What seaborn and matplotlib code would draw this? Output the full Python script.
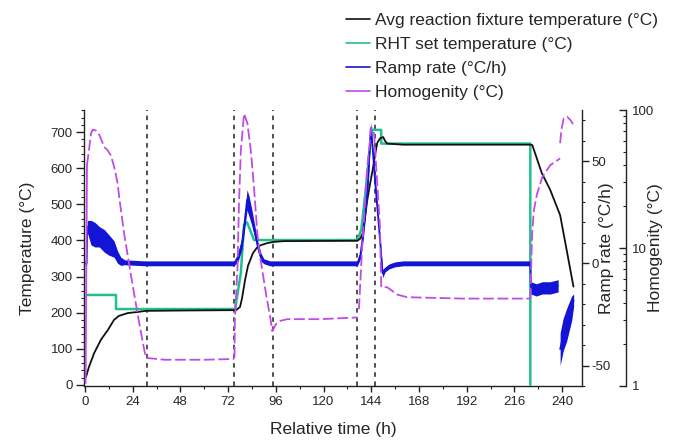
import matplotlib
matplotlib.use("Agg")
import matplotlib.pyplot as plt
import numpy as np
import seaborn as sns
from matplotlib.lines import Line2D
from matplotlib.ticker import MultipleLocator, LogLocator, NullFormatter, FixedLocator, FixedFormatter

sns.set_theme(style="white")
plt.rcParams["font.family"] = ["Liberation Sans", "DejaVu Sans"]
plt.rcParams["axes.unicode_minus"] = False

# ---- Average reaction fixture temperature (degC) ----
fixture_time = [0.5, 2, 4.6, 8, 11.5, 14.6, 17, 21.6, 26.6, 30.6, 50, 75, 76, 78, 79,
                80.5, 82, 84.5, 86.5, 88.5, 92, 95, 100, 137, 138.5, 139.7, 141, 142,
                143.5, 144.7, 146, 147, 148.5, 150, 151, 152, 160, 200, 224, 225,
                229.8, 234, 239, 242.3, 245.7]
fixture_temp = [22, 50, 88, 125, 152, 180, 191, 199, 202, 205, 206, 207, 207, 216, 240,
                290, 330, 365, 380, 387, 393, 396, 398, 399, 405, 420, 470, 512,
                560, 595, 640, 670, 683, 686, 675, 668, 665, 665, 665, 664,
                586, 540, 470, 373, 272]

# ---- RHT set temperature (degC) ----
set_time = [1.3, 15.6, 15.6, 75.5, 78.4, 80, 81.5, 84.4, 85, 137, 139, 141, 143,
            144.5, 149, 149, 224, 224]
set_temp = [249, 249, 210, 210, 310, 443, 450, 410, 401, 401, 430, 530, 640,
            706, 706, 668, 668, 0]

# ---- Ramp rate (degC/h): centre of the trace and half-width of its noise band ----
ramp_time_a = [0, 0.8, 1.2, 3, 5, 7.2, 9.7, 12, 14.6, 16.4, 18, 20, 30, 50, 75, 77,
               79, 80.5, 81.5, 82.5, 84, 85.5, 87, 88.5, 90, 93, 100, 137, 138.5,
               140, 141.5, 142.5, 143.7, 144.7, 145.5, 146.5, 147.5, 148.5, 149.7,
               151, 153, 156, 160, 224, 224.3, 227, 230, 234, 238]
ramp_rate_a = [0, 0, 18, 15, 14, 13, 11, 9, 7, 3, 1, 0.5, 0, 0, 0, 3,
               10, 22, 31, 28, 22, 15, 8, 3, 1, 0, 0, 0, 4,
               15, 30, 42, 66, 56, 45, 33, 22, 10, -5,
               -3, -1.5, -0.5, 0, 0, -12, -13, -12, -12, -11]
ramp_noise_a = [1, 1, 3, 6, 6, 5, 5.5, 5, 4, 3, 2, 1.2, 1.2, 1.2, 1.2, 2,
                3, 4, 5, 5, 4, 3, 2.5, 2, 1.2, 1.2, 1.2, 1.2, 2,
                3, 3, 3, 3, 3, 3, 3, 3, 3, 2,
                1.2, 1.2, 1.2, 1.2, 1.2, 3, 3, 3, 3, 3]
ramp_time_b = [239, 240.5, 242.3, 244.8, 245.8]
ramp_rate_b = [-42, -35, -30, -22, -18]
ramp_noise_b = [8, 8, 8, 6, 3]

# ---- Homogenity (degC), log axis ----
homog_time_0 = [0.3, 1.0]
homog_val_0 = [1.05, 40]
homog_time_a = [1.0, 2.2, 3.0, 3.9, 5.5, 7.2, 9.7, 11.4, 13, 14.7, 16.4, 17.2,
                19.7, 23, 26.5, 29, 30.6, 40, 60, 75]
homog_val_a = [40, 54, 67.6, 72, 71, 66, 54, 51, 47, 38.6, 29.4, 23.4,
               12.7, 6.5, 3.3, 2.1, 1.6, 1.55, 1.55, 1.57]
homog_time_b = [75.2, 75.4, 76.7, 77.5, 78.4, 80, 81.7, 83.4, 85, 86.7, 88.4, 91,
                93.4, 94.2, 96, 98.4, 101.8, 118.5, 137]
homog_val_b = [1.6, 2.97, 7.2, 22, 51, 94, 80, 51, 27.6, 12.7, 8.1, 4.7,
               3.0, 2.5, 2.8, 2.97, 3.05, 3.05, 3.14]
homog_time_c = [137.8, 139.5, 142, 144, 145.4, 147, 148.4, 149, 152, 157, 162, 190, 224]
homog_val_c = [3.6, 10.8, 38.6, 75, 67.6, 29.4, 14.2, 5.2, 5.2, 4.6, 4.4, 4.3, 4.3]
homog_time_d = [224, 224.9, 225.8, 227.4, 230, 234, 239]
homog_val_d = [4.3, 12.7, 18.8, 24.7, 32.6, 39.8, 44.6]
homog_time_e = [239, 239.6, 240.8, 242.5, 244.2, 245.5]
homog_val_e = [57.5, 71.5, 87, 89.5, 84.5, 79]

# ---- Process stage boundaries (h) ----
stage_marks = [31, 75, 94.5, 137, 146]

c_fixture = "#111111"
c_set = "#22c08e"
c_ramp = "#1414d6"
c_homog = "#c04be6"

W, H = 673, 443
fig = plt.figure(figsize=(W / 100, H / 100), dpi=100)
AX_L, AX_R, AX_T, AX_B = 84, 582, 110, 386
ax = fig.add_axes([AX_L / W, 1 - AX_B / H, (AX_R - AX_L) / W, (AX_B - AX_T) / H])
ax2 = ax.twinx()
ax3 = ax.twinx()
for a in (ax, ax2, ax3):
    a.set_facecolor("none")
    a.grid(False)


def ax_x(px):
    """Horizontal figure pixel -> axes fraction."""
    return (px - AX_L) / (AX_R - AX_L)


# temperature axis
for x in stage_marks:
    ax.axvline(x, color="#222222", lw=1.1, ls=(0, (3, 3)), zorder=1)
sns.lineplot(x=set_time, y=set_temp, ax=ax, color=c_set, lw=1.8, sort=False,
             estimator=None, zorder=3)
sns.lineplot(x=fixture_time, y=fixture_temp, ax=ax, color=c_fixture, lw=1.3,
             sort=False, estimator=None, zorder=4)
ax.set_xlim(-0.5, 250)
ax.set_ylim(-3, 761)
ax.xaxis.set_major_locator(MultipleLocator(24))
ax.xaxis.set_minor_locator(MultipleLocator(12))
ax.yaxis.set_major_locator(MultipleLocator(100))
ax.yaxis.set_minor_locator(MultipleLocator(20))
ax.set_xlabel("Relative time (h)", fontsize=12.5, labelpad=10)
ax.set_ylabel("Temperature (°C)", fontsize=12.5)
ax.yaxis.set_label_coords(ax_x(35), 0.5)

# ramp-rate axis
for t, r, n in ((ramp_time_a, ramp_rate_a, ramp_noise_a),
                (ramp_time_b, ramp_rate_b, ramp_noise_b)):
    r = np.asarray(r, float)
    n = np.asarray(n, float)
    ax2.fill_between(t, r - n, r + n, color=c_ramp, lw=0, zorder=2)
    sns.lineplot(x=t, y=r, ax=ax2, color=c_ramp, lw=1.2, sort=False,
                 estimator=None, zorder=3)
ax2.set_ylim(-60, 75)
ax2.yaxis.set_major_locator(MultipleLocator(50))
ax2.yaxis.set_minor_locator(MultipleLocator(10))
ax2.set_ylabel("Ramp rate (°C/h)", fontsize=12.5)
ax2.yaxis.set_label_coords(ax_x(599), 0.5)

# homogenity axis (log), its spine pushed 44 px to the right of the frame
ax3.set_yscale("log")
ax3.set_ylim(1, 100)
sns.lineplot(x=homog_time_0, y=homog_val_0, ax=ax3, color=c_homog, lw=1.3,
             sort=False, estimator=None, zorder=5)
for t, h in ((homog_time_a, homog_val_a), (homog_time_b, homog_val_b),
             (homog_time_c, homog_val_c), (homog_time_d, homog_val_d),
             (homog_time_e, homog_val_e)):
    sns.lineplot(x=t, y=h, ax=ax3, color=c_homog, lw=1.3, sort=False,
                 estimator=None, zorder=5, linestyle=(0, (6, 2)))
ax3.spines["right"].set_position(("outward", 44 * 72 / 100))
ax3.yaxis.set_major_locator(FixedLocator([1, 10, 100]))
ax3.yaxis.set_major_formatter(FixedFormatter(["1", "10", "100"]))
ax3.yaxis.set_minor_locator(LogLocator(base=10, subs=np.arange(2, 10)))
ax3.yaxis.set_minor_formatter(NullFormatter())
ax3.set_ylabel("Homogenity (°C)", fontsize=12.5)
ax3.yaxis.set_label_coords(ax_x(648), 0.5)

# spines and ticks
for a in (ax, ax2, ax3):
    for s in a.spines.values():
        s.set_visible(False)
        s.set_color("#222222")
        s.set_linewidth(1.0)
ax.spines["left"].set_visible(True)
ax.spines["bottom"].set_visible(True)
ax2.spines["right"].set_visible(True)
ax3.spines["right"].set_visible(True)

ax.tick_params(axis="y", which="major", direction="out", length=6, width=1,
               color="#222222", labelsize=9.5, pad=2, left=True)
ax.tick_params(axis="x", which="major", direction="out", length=4, width=1,
               color="#222222", labelsize=9.5, pad=3, bottom=True)
ax.tick_params(axis="both", which="minor", direction="out", length=2.5, width=0.8,
               color="#222222", left=True, bottom=True)
ax2.tick_params(axis="y", which="major", direction="out", length=5, width=1,
                color="#222222", labelsize=9.5, pad=2, right=True)
ax2.tick_params(axis="y", which="minor", direction="out", length=2.5, width=0.8,
                color="#222222", right=True)
ax3.tick_params(axis="y", which="major", direction="in", length=5, width=1,
                color="#222222", labelsize=9.5, pad=4, right=True)
ax3.tick_params(axis="y", which="minor", direction="in", length=2.5, width=0.8,
                color="#222222", right=True)

handles = [Line2D([], [], color=c_fixture, lw=1.2),
           Line2D([], [], color=c_set, lw=1.2),
           Line2D([], [], color=c_ramp, lw=1.2),
           Line2D([], [], color=c_homog, lw=1.2)]
labels = ["Avg reaction fixture temperature (°C)", "RHT set temperature (°C)",
          "Ramp rate (°C/h)", "Homogenity (°C)"]
fig.legend(handles, labels, loc="upper left", bbox_to_anchor=(346 / W, 1 - 13 / H),
           frameon=False, fontsize=12.5, handlelength=1.4, handletextpad=0.25,
           labelspacing=0.5, borderpad=0, borderaxespad=0)

fig.savefig("out.png", dpi=100)
